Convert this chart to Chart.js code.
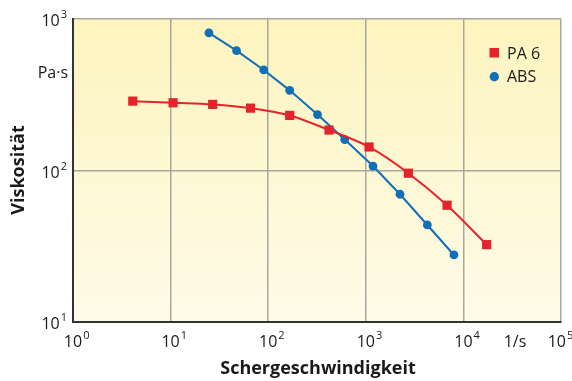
<!DOCTYPE html>
<html>
<head>
<meta charset="utf-8">
<script src="https://cdn.jsdelivr.net/npm/chart.js@4"></script>
<style>
  html, body { margin: 0; padding: 0; background: #fff; }
  #wrap { width: 572px; height: 381px; }
</style>
</head>
<body>
<div id="wrap"><canvas id="viscChart" width="572" height="381"></canvas></div>
<script>
// shear rate in 1/s, viscosity in Pa·s
const shearPA6 = [4.1, 10.6, 27, 66, 166, 420, 1080, 2730, 6800, 17300];
const viscPA6  = [287, 280, 273, 258, 231, 185, 143, 96, 59, 32.4];
const shearABS = [24.7, 47.4, 90, 166, 320, 608, 1185, 2240, 4270, 8000];
const viscABS  = [809, 618, 461, 338, 234, 160, 107, 69.7, 43.7, 27.7];
const seriesNames = ['PA 6', 'ABS'];
const xExponents = [0, 1, 2, 3, 4, 5];
const yExponents = [1, 2, 3];

const RED = '#e5232b';
const BLUE = '#0f6fb7';
const FONT = '"Open Sans", "Noto Sans", sans-serif';

function decades(exps) {
  return exps.map(e => ({ value: Math.pow(10, e) }));
}

// "10" with a raised exponent
function drawPow(ctx, exp, x, baseY, align) {
  ctx.font = '16px ' + FONT;
  const wBase = ctx.measureText('10').width;
  ctx.font = '11px ' + FONT;
  const wExp = ctx.measureText(String(exp)).width;
  let left;
  if (align === 'center') left = Math.min(x - wBase / 2, 566 - wBase);
  else left = x - wBase - 1 - wExp;
  ctx.textAlign = 'left';
  ctx.textBaseline = 'alphabetic';
  ctx.font = '16px ' + FONT;
  ctx.fillText('10', left, baseY);
  ctx.font = '11px ' + FONT;
  ctx.fillText(String(exp), left + wBase + 1, baseY - 8);
}

const decor = {
  id: 'decor',
  beforeDraw(chart) {
    const { ctx, chartArea: a } = chart;
    const g = ctx.createLinearGradient(0, a.top, 0, a.bottom);
    g.addColorStop(0, '#fdf4be');
    g.addColorStop(1, '#fefbe8');
    ctx.save();
    ctx.fillStyle = g;
    ctx.fillRect(a.left, a.top, a.right - a.left, a.bottom - a.top);
    ctx.restore();
  },
  afterDraw(chart) {
    const { ctx, chartArea: a } = chart;
    const xs = chart.scales.x, ys = chart.scales.y;
    ctx.save();
    ctx.fillStyle = '#1a1a1a';

    // tick labels
    xExponents.forEach(e => drawPow(ctx, e, xs.getPixelForValue(Math.pow(10, e)), a.bottom + 25, 'center'));
    yExponents.forEach(e => drawPow(ctx, e, a.left - 6, ys.getPixelForValue(Math.pow(10, e)) + 7, 'right'));

    // units
    ctx.font = '16px ' + FONT;
    ctx.textAlign = 'right';
    ctx.fillText('Pa\u00b7s', a.left - 5, 78);
    ctx.textAlign = 'center';
    ctx.fillText('1/s', 515, a.bottom + 25);

    // axis titles
    ctx.font = 'bold 18px ' + FONT;
    ctx.textAlign = 'center';
    ctx.textBaseline = 'middle';
    ctx.fillText('Schergeschwindigkeit', 318, 369);
    ctx.save();
    ctx.translate(19, 170);
    ctx.rotate(-Math.PI / 2);
    ctx.fillText('Viskosität', 0, 0);
    ctx.restore();

    // legend
    ctx.textAlign = 'left';
    ctx.textBaseline = 'alphabetic';
    ctx.font = '16px ' + FONT;
    ctx.fillStyle = RED;
    ctx.fillRect(489.5, 48, 9.5, 9.5);
    ctx.fillStyle = BLUE;
    ctx.beginPath();
    ctx.arc(494.3, 76.7, 4.7, 0, Math.PI * 2);
    ctx.fill();
    ctx.fillStyle = '#1a1a1a';
    ctx.fillText(seriesNames[0], 507, 59);
    ctx.fillText(seriesNames[1], 507, 82);
    ctx.restore();
  }
};

const ctx = document.getElementById('viscChart').getContext('2d');
new Chart(ctx, {
  type: 'line',
  data: {
    datasets: [{
      label: seriesNames[0],
      data: shearPA6.map((x, i) => ({ x: x, y: viscPA6[i] })),
      borderColor: RED,
      backgroundColor: RED,
      borderWidth: 2,
      pointStyle: 'rect',
      pointRadius: 6.5,
      pointBorderWidth: 0,
      tension: 0.35
    }, {
      label: seriesNames[1],
      data: shearABS.map((x, i) => ({ x: x, y: viscABS[i] })),
      borderColor: BLUE,
      backgroundColor: BLUE,
      borderWidth: 2,
      pointStyle: 'circle',
      pointRadius: 4.4,
      pointBorderWidth: 0,
      tension: 0
    }]
  },
  options: {
    responsive: false,
    animation: false,
    devicePixelRatio: 1,
    layout: { padding: { left: 73, top: 19, right: 11, bottom: 59 } },
    plugins: {
      legend: { display: false },
      tooltip: { enabled: false }
    },
    scales: {
      x: {
        type: 'logarithmic',
        min: 1,
        max: 100000,
        afterBuildTicks: axis => { axis.ticks = decades(xExponents); },
        ticks: { display: false },
        grid: { color: '#a8a8a2', lineWidth: 1.5, drawTicks: false },
        border: { color: '#333', width: 2 }
      },
      y: {
        type: 'logarithmic',
        min: 10,
        max: 1000,
        afterBuildTicks: axis => { axis.ticks = decades(yExponents); },
        ticks: { display: false },
        grid: { color: '#a8a8a2', lineWidth: 1.5, drawTicks: false },
        border: { color: '#333', width: 2 }
      }
    }
  },
  plugins: [decor]
});
</script>
</body>
</html>
